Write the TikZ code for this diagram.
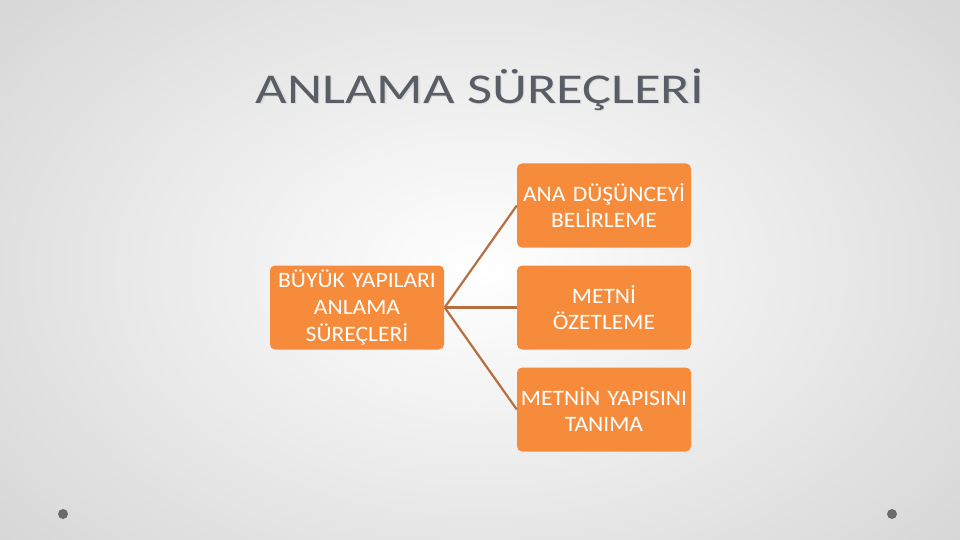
\documentclass[tikz,border=0pt]{standalone}
\usepackage{fontspec}
\setmainfont{Carlito}
\newfontfamily\boxfont[FakeStretch=1.07]{Carlito}
\newfontfamily\titlefont[FakeStretch=1.28]{Carlito}
\usetikzlibrary{shadings}
\definecolor{boxorange}{HTML}{F68B3B}
\definecolor{linebrown}{HTML}{B86E3E}
\definecolor{titlegrey}{HTML}{595D65}
\definecolor{dotgrey}{HTML}{6A6A6A}
\definecolor{bgedge}{HTML}{D6D6D6}
\begin{document}
\begin{tikzpicture}[x=1pt,y=-1pt,
  orangebox/.style={draw=none,fill=boxorange,rounded corners=5pt,minimum width=174pt,minimum height=84pt,text=white,align=center,font=\boxfont\fontsize{22}{26.7}\selectfont,inner sep=0pt,text width=174pt},
  conn/.style={draw=linebrown,line width=2.2pt},
  titletext/.style={font=\titlefont\fontsize{42.5}{50}\selectfont,anchor=base}]
\useasboundingbox (0,0) rectangle (960,540);
\shade[inner color=white,outer color=bgedge] (-160,-160) rectangle (1120,700);
\node[titletext,text=titlegrey!22] (shadow) at (481.3,104.6) {ANLAMA SÜREÇLERİ};
\node[titletext,text=titlegrey] (title) at (480,103.3) {ANLAMA SÜREÇLERİ};
\node[orangebox] (src) at (357,307.5) {BÜYÜK YAPILARI\\ANLAMA\\SÜREÇLERİ};
\node[orangebox] (a) at (604,205.5) {ANA DÜŞÜNCEYİ\\BELİRLEME};
\node[orangebox] (b) at (604,307.5) {METNİ\\ÖZETLEME};
\node[orangebox] (c) at (604,409.5) {METNİN YAPISINI\\TANIMA};
\coordinate (hub) at ([xshift=0.5pt]src.east);
\draw[conn] (hub) -- (a.west);
\draw[conn] (hub) -- (b.west);
\draw[conn] (hub) -- (c.west);
\fill[dotgrey] (63,514) circle (5pt);
\fill[dotgrey] (892,514) circle (5pt);
\end{tikzpicture}
\end{document}
